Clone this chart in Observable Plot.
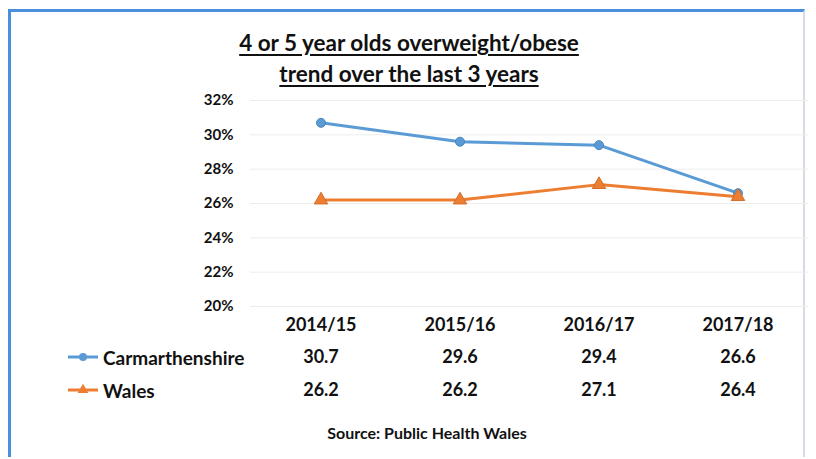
<!DOCTYPE html>
<html>
<head>
<meta charset="utf-8">
<script src="https://cdn.jsdelivr.net/npm/d3@7"></script>
<script src="https://cdn.jsdelivr.net/npm/@observablehq/plot@0.6"></script>
<style>
  html, body { margin: 0; padding: 0; background: #fff; }
  #wrap { position: relative; width: 816px; height: 459px; background: #fff; overflow: hidden;
          font-family: Lato, "Open Sans", sans-serif; font-weight: bold; color: #111; }
  #frame { position: absolute; left: 8px; top: 9px; width: 797px; height: 448px;
           border-left: 3px solid #4a8fdc; border-top: 3px solid #4a8fdc;
           border-right: 2px solid #d5dbe3; box-sizing: border-box; }
  #title { position: absolute; left: 0; width: 818px; top: 27px; text-align: center;
           font-size: 22.5px; line-height: 31px; text-decoration: underline; text-underline-offset: 3px; }
  #source { position: absolute; left: 0; width: 854px; top: 423px; text-align: center; font-size: 16px; }
  .leg { position: absolute; left: 66px; height: 24px; display: flex; align-items: center; font-size: 19px; }
  .leg svg { margin-right: 3px; }
  #chart { position: absolute; left: 0; top: 0; }
</style>
</head>
<body>
<div id="wrap">
  <div id="frame"></div>
  <div id="title">4 or 5 year olds overweight/obese<br>trend over the last 3 years</div>
  <div id="chart"></div>
  <div class="leg" id="leg1" style="top:345px"></div>
  <div class="leg" id="leg2" style="top:378px"></div>
  <div id="source">Source: Public Health Wales</div>
</div>
<script>
const years = ["2014/15", "2015/16", "2016/17", "2017/18"];
const carmarthenshire = [30.7, 29.6, 29.4, 26.6];
const wales = [26.2, 26.2, 27.1, 26.4];
const yTicks = [20, 22, 24, 26, 28, 30, 32];
const seriesNames = ["Carmarthenshire", "Wales"];

const blue = "#5b9bd5";
const orange = "#ed7d31";

const rowsC = years.map((y, i) => ({year: y, value: carmarthenshire[i]}));
const rowsW = years.map((y, i) => ({year: y, value: wales[i]}));

const chart = Plot.plot({
  width: 816,
  height: 459,
  marginTop: 100,
  marginBottom: 153,
  marginLeft: 250,
  marginRight: 8,
  style: {fontFamily: "Lato, 'Open Sans', sans-serif", fontWeight: "bold", color: "#111", background: "transparent"},
  x: {type: "band", domain: years, padding: 0, axis: null},
  y: {domain: [20, 32], axis: null},
  marks: [
    Plot.ruleY(yTicks, {y: d => d, stroke: "#ededed", strokeWidth: 1}),
    Plot.axisY({ticks: yTicks, tickSize: 0, tickPadding: 17, tickFormat: d => d + "%", fontSize: 15, fontWeight: "bold", label: null}),
    Plot.line(rowsC, {x: "year", y: "value", stroke: blue, strokeWidth: 3}),
    Plot.line(rowsW, {x: "year", y: "value", stroke: orange, strokeWidth: 3}),
    Plot.dot(rowsC, {x: "year", y: "value", symbol: "circle", r: 4.5, fill: blue, stroke: "#4a86bd", strokeWidth: 1}),
    Plot.dot(rowsW, {x: "year", y: "value", symbol: "triangle", r: 5, fill: orange, stroke: "#d0702c", strokeWidth: 1}),
    Plot.text(years, {x: d => d, text: d => d, frameAnchor: "bottom", dy: 19, lineAnchor: "middle", fontSize: 18, fontWeight: "bold", fill: "#111"}),
    Plot.text(rowsC, {x: "year", text: d => d.value.toFixed(1), frameAnchor: "bottom", dy: 51, lineAnchor: "middle", fontSize: 18, fontWeight: "bold", fill: "#111"}),
    Plot.text(rowsW, {x: "year", text: d => d.value.toFixed(1), frameAnchor: "bottom", dy: 84, lineAnchor: "middle", fontSize: 18, fontWeight: "bold", fill: "#111"})
  ]
});
document.getElementById("chart").appendChild(chart);

function swatch(color, symbol) {
  const ns = "http://www.w3.org/2000/svg";
  const s = document.createElementNS(ns, "svg");
  s.setAttribute("width", 34); s.setAttribute("height", 14);
  const l = document.createElementNS(ns, "line");
  l.setAttribute("x1", 2); l.setAttribute("x2", 32); l.setAttribute("y1", 7); l.setAttribute("y2", 7);
  l.setAttribute("stroke", color); l.setAttribute("stroke-width", 3);
  s.appendChild(l);
  const p = document.createElementNS(ns, "path");
  const sym = d3.symbol(symbol === "circle" ? d3.symbolCircle : d3.symbolTriangle, 50)();
  p.setAttribute("d", sym); p.setAttribute("transform", "translate(17,7)"); p.setAttribute("fill", color);
  s.appendChild(p);
  return s;
}
const leg1 = document.getElementById("leg1");
leg1.appendChild(swatch(blue, "circle"));
leg1.appendChild(document.createTextNode(seriesNames[0]));
const leg2 = document.getElementById("leg2");
leg2.appendChild(swatch(orange, "triangle"));
leg2.appendChild(document.createTextNode(seriesNames[1]));
</script>
</body>
</html>
